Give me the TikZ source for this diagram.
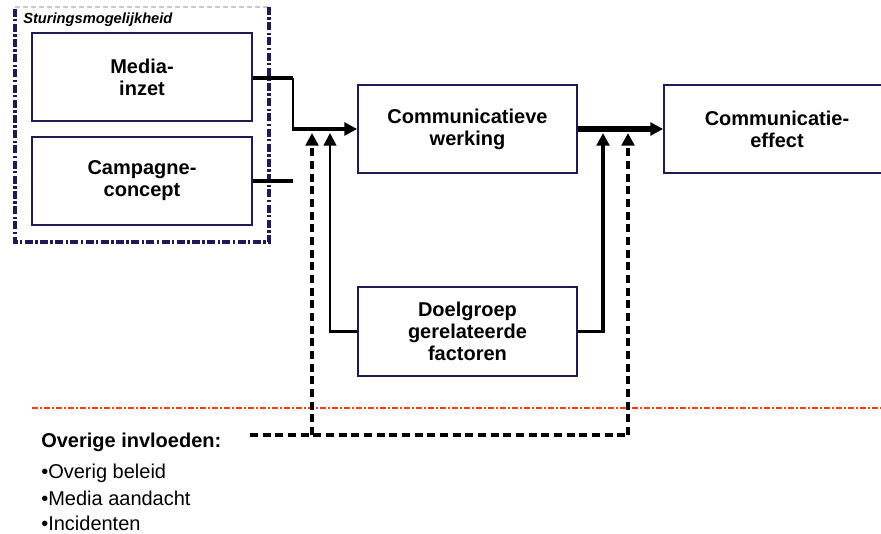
\documentclass[tikz,border=0pt]{standalone}
\usepackage{fontspec}
\setmainfont{Liberation Sans}
\usetikzlibrary{arrows.meta}
\definecolor{navy}{HTML}{1E1A55}
\definecolor{redline}{HTML}{FF3A12}
\definecolor{paleg}{HTML}{C8C8D0}
\begin{document}
\begin{tikzpicture}[x=0.75pt,y=-0.75pt,
  box/.style={draw=navy, line width=1.3pt, fill=white, align=center,
    font=\fontsize{15}{16.5}\selectfont\bfseries, inner sep=0pt},
  tipa/.style={-{Triangle[length=9.5pt,width=9.5pt]}},
  conn/.style={line width=1.7pt},
  thickconn/.style={line width=2.6pt},
  dashconn/.style={line width=2.6pt, dash pattern=on 6pt off 3.5pt},
  dashthick/.style={line width=3.6pt, dash pattern=on 6pt off 3.5pt},
  frame/.style={navy, line width=2.5pt, dash pattern=on 6pt off 1.8pt on 1.8pt off 1.8pt},
  redsep/.style={redline, line width=2.2pt, dash pattern=on 4.5pt off 1.5pt on 1.5pt off 1.5pt}]
\useasboundingbox (0,0) rectangle (881,533);
\clip (0,0) rectangle (881,533);

% control frame
\draw[paleg, line width=1pt, dash pattern=on 4pt off 2pt] (15,7) -- (269,7);
\draw[frame] (269,7) -- (269,242) -- (15,242) -- (15,7);
\node[anchor=base west, font=\fontsize{11}{13}\selectfont\bfseries\itshape, inner sep=0pt] (stur) at (23,23) {Sturingsmogelijkheid};

% boxes
\node[box, minimum width=165pt, minimum height=66pt] (media) at (142,77) {Media-\\inzet};
\node[box, minimum width=165pt, minimum height=66pt] (camp) at (142,181) {Campagne-\\concept};
\node[box, minimum width=164.25pt, minimum height=66pt] (werk) at (467.5,129) {Communicatieve\\werking};
\node[box, minimum width=169.5pt, minimum height=66pt] (eff) at (777,129) {Communicatie-\\effect};
\node[box, minimum width=164.25pt, minimum height=66.75pt] (doel) at (467.5,331.5) {Doelgroep\\gerelateerde\\factoren};

% coordinates
\coordinate (mc) at (293,78);
\coordinate (mj) at (293,129);
\coordinate (cc) at (293,181);
\coordinate (dl) at (330,331.5);
\coordinate (dlt) at (330,133);
\coordinate (dr) at (603,331.5);
\coordinate (drt) at (603,133);
\coordinate (ol) at (312,435);
\coordinate (olt) at (312,133);
\coordinate (orr) at (628,435);
\coordinate (ort) at (628,133);
\coordinate (os) at (250,435);

% connectors
\draw[thickconn] (media.east |- mc) -- (mc);
\draw[conn] (mc) -- (mj);
\draw[line width=3.2pt, tipa] ([xshift=-0.9pt]mj) -- (werk.west);
\draw[thickconn] (camp.east) -- (cc);
\draw[line width=3.8pt, tipa] (werk.east) -- (eff.west);
\draw[conn, tipa] (doel.west) -- (dl) -- (dlt);
\draw[thickconn, tipa] (doel.east) -- (dr) -- (drt);

% separator
\draw[redsep] (32,408) -- (881,408);

% other influences
\node[anchor=base west, font=\fontsize{15}{17}\selectfont\bfseries, inner sep=0pt] (ov) at (41,447) {Overige invloeden:};
\draw[dashconn] (os) -- (orr);
\draw[dashconn, tipa] (ol) -- (olt);
\draw[dashthick, tipa] (orr) -- (ort);

\node[anchor=base west, font=\fontsize{15}{17}\selectfont, inner sep=0pt] (b1) at (41,478) {•Overig beleid};
\node[anchor=base west, font=\fontsize{15}{17}\selectfont, inner sep=0pt] (b2) at (41,505) {•Media aandacht};
\node[anchor=base west, font=\fontsize{15}{17}\selectfont, inner sep=0pt] (b3) at (41,530) {•Incidenten};
\end{tikzpicture}
\end{document}
